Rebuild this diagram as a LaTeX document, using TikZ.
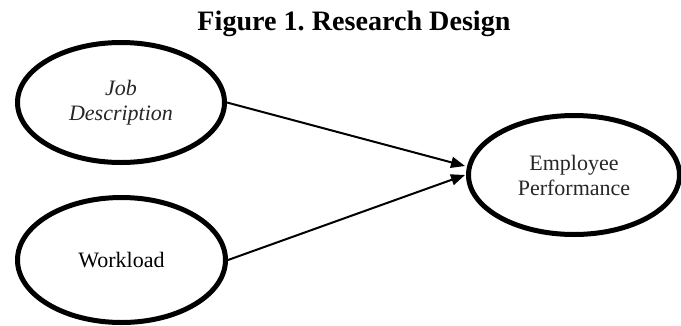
\documentclass[tikz,border=0pt]{standalone}
\usepackage{fontspec}
\newfontfamily\timesfont{Liberation Serif}
\usetikzlibrary{shapes.geometric,arrows.meta}

\tikzset{
  construct/.style={ellipse, draw=black, line width=5pt, inner sep=0pt,
    align=center, text=black!85,
    font=\timesfont\fontsize{22}{25}\selectfont},
  path arrow/.style={line width=2pt, -{Triangle[length=14pt,width=11pt]}},
}

\begin{document}
\begin{tikzpicture}[x=1pt,y=-1pt]
  \useasboundingbox (0,0) rectangle (681,325);

  % title
  \node (title) [anchor=base, inner sep=0pt] at (354,30)
    {\resizebox{313pt}{!}{\timesfont\bfseries Figure 1.\ Research Design}};

  % constructs
  \node (jd) [construct, minimum width=207pt, minimum height=120pt]
    at (121,102.5) {\itshape Job\\\itshape Description};
  \node (wl) [construct, minimum width=208pt, minimum height=125pt, text=black]
    at (121.5,260) {Workload};
  \node (ep) [construct, minimum width=211pt, minimum height=119pt]
    at (574,175) {Employee\\Performance};

  % hypothesised paths
  \draw[path arrow] (jd.east) -- ([yshift=9pt,xshift=-1pt]ep.west);
  \draw[path arrow] (wl.east) -- ([xshift=-1pt]ep.west);
\end{tikzpicture}
\end{document}
